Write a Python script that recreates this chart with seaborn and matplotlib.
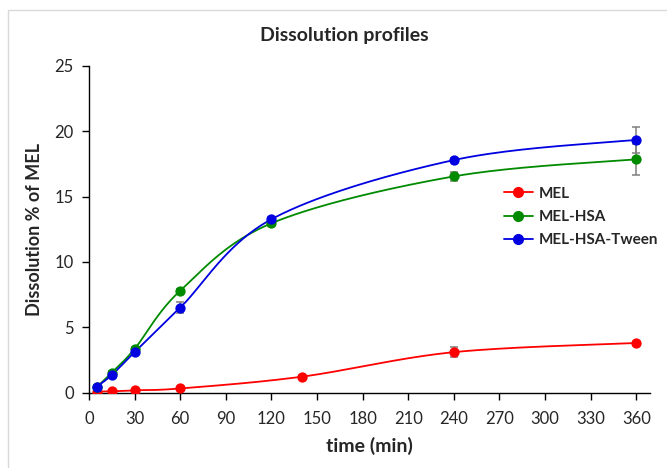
import numpy as np
import pandas as pd
import matplotlib
matplotlib.use("Agg")
import matplotlib.pyplot as plt
from matplotlib.lines import Line2D
from matplotlib.patches import Rectangle
import seaborn as sns

# datos
tiempo_mel = [5, 15, 30, 60, 140, 240, 360]
mel = [0.08, 0.1, 0.18, 0.32, 1.22, 3.1, 3.8]
mel_err = [0.05, 0.05, 0.05, 0.08, 0.1, 0.4, 0.1]

tiempo = [5, 15, 30, 60, 120, 240, 360]
mel_hsa = [0.4, 1.53, 3.35, 7.8, 12.96, 16.55, 17.86]
mel_hsa_err = [0.1, 0.1, 0.15, 0.15, 0.2, 0.35, 1.2]
mel_tween = [0.45, 1.35, 3.1, 6.5, 13.27, 17.8, 19.35]
mel_tween_err = [0.1, 0.1, 0.15, 0.4, 0.2, 0.15, 1.0]

series = [
    ("MEL", tiempo_mel, mel, mel_err, "#ff0000"),
    ("MEL-HSA", tiempo, mel_hsa, mel_hsa_err, "#008a00"),
    ("MEL-HSA-Tween", tiempo, mel_tween, mel_tween_err, "#0000e0"),
]


def suavizar(x, y, n=40):
    # curva tipo "linea suavizada" de Excel (Bezier con tangentes Catmull-Rom)
    p = np.column_stack([x, y]).astype(float)
    p = np.vstack([p[0], p, p[-1]])
    t = np.linspace(0, 1, n)[:, None]
    trozos = []
    for i in range(1, len(p) - 2):
        p0, p1, p2, p3 = p[i - 1], p[i], p[i + 1], p[i + 2]
        c1 = p1 + (p2 - p0) / 6
        c2 = p2 - (p3 - p1) / 6
        b = ((1 - t) ** 3) * p1 + 3 * ((1 - t) ** 2) * t * c1 + 3 * (1 - t) * t ** 2 * c2 + t ** 3 * p2
        trozos.append(b)
    return np.vstack(trozos)


sns.set_style("ticks")
plt.rcParams["font.family"] = ["Lato", "DejaVu Sans"]

fig = plt.figure(figsize=(6.67, 4.68), dpi=100)
ax = fig.add_axes([0.1334, 0.161, 0.841, 0.698])

handles = []
for nombre, x, y, err, color in series:
    curva = suavizar(x, y)
    df_curva = pd.DataFrame({"t": curva[:, 0], "v": curva[:, 1]})
    sns.lineplot(data=df_curva, x="t", y="v", sort=False, color=color,
                 linewidth=1.3, legend=False, ax=ax, zorder=2)
    ax.errorbar(x, y, yerr=err, fmt="none", ecolor="#7f7f7f",
                elinewidth=1.1, capsize=3, capthick=1.1, zorder=3)
    sns.scatterplot(x=x, y=y, color=color, s=55, edgecolor=color,
                    linewidth=0, ax=ax, zorder=4, legend=False)
    handles.append(Line2D([], [], color=color, marker="o", markersize=7,
                          linewidth=1.3, label=nombre))

ax.set_xlim(0, 369)
ax.set_ylim(0, 25)
ax.set_xticks(range(0, 361, 30))
ax.set_yticks(range(0, 26, 5))
ax.tick_params(axis="both", direction="out", length=5, width=1, labelsize=12,
               color="black", pad=6)
ax.tick_params(axis="x", pad=8)
for lado in ["top", "right"]:
    ax.spines[lado].set_visible(False)
for lado in ["left", "bottom"]:
    ax.spines[lado].set_color("black")
    ax.spines[lado].set_linewidth(1)

ax.set_xlabel("time (min)", fontsize=14, fontweight="bold", labelpad=7)
ax.set_ylabel("Dissolution % of MEL", fontsize=13, fontweight="bold", labelpad=8)
fig.suptitle("Dissolution profiles", fontsize=14, fontweight="bold",
             x=0.516, y=1 - 35 / 468, va="center")

fig.legend(handles=handles, loc="upper left", bbox_to_anchor=(0.755, 0.601),
           frameon=False, handlelength=1.9, handletextpad=0.4,
           labelspacing=0.6, borderpad=0, borderaxespad=0,
           prop={"weight": "bold", "size": 11})

# borde gris claro del area del grafico
fig.patches.append(Rectangle((8 / 667, -0.1), 1.2, 1 - 10 / 468 + 0.1,
                             transform=fig.transFigure, fill=False,
                             edgecolor="#d9d9d9", linewidth=1))

fig.savefig("out.png", dpi=100)
